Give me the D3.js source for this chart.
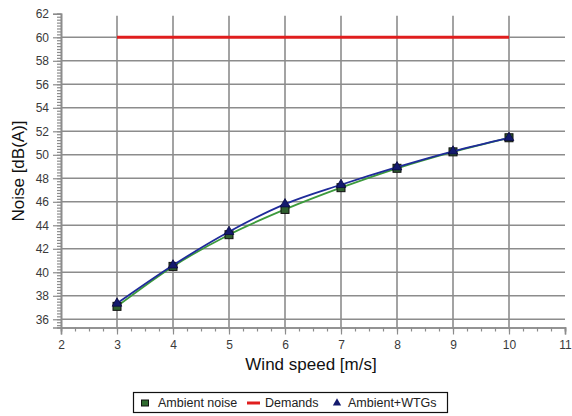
<!DOCTYPE html>
<html lang="en">
<head>
    <meta charset="UTF-8">
    <title>Noise vs wind speed</title>
    <style>
        body { margin: 0; padding: 0; background: #fff; }
        svg { display: block; font-family: "Liberation Sans", Arial, sans-serif; }
        svg text { font-family: "Liberation Sans", Arial, sans-serif; }
    </style>
</head>
<body>
    <div id="chart"></div>
    <script src="https://d3js.org/d3.v7.min.js"></script>
    <script>
        const windSpeeds = [3, 4, 5, 6, 7, 8, 9, 10];
        const ambientNoise = [37.1, 40.5, 43.2, 45.35, 47.2, 48.85, 50.25, 51.45];
        const ambientWtgs = [37.35, 40.6, 43.45, 45.8, 47.45, 48.95, 50.3, 51.45];
        const demands = [60, 60, 60, 60, 60, 60, 60, 60];
        const xTicks = [2, 3, 4, 5, 6, 7, 8, 9, 10, 11];
        const yTicks = [36, 38, 40, 42, 44, 46, 48, 50, 52, 54, 56, 58, 60, 62];
        const legendItems = ['Ambient noise', 'Demands', 'Ambient+WTGs'];

        const width = 572, height = 416;
        const svg = d3.select('#chart').append('svg')
            .attr('width', width)
            .attr('height', height);

        const x = d3.scaleLinear().domain([2, 11]).range([61, 565]);
        const y = d3.scaleLinear().domain([35.3, 62]).range([327.5, 13.8]);

        const gridColor = '#8c8c8c';

        // grid
        svg.append('g').selectAll('line')
            .data(xTicks.filter(d => d > 2 && d < 11))
            .enter().append('line')
            .attr('x1', d => x(d)).attr('x2', d => x(d))
            .attr('y1', y(62) + 2).attr('y2', y(35.3))
            .attr('stroke', gridColor).attr('stroke-width', 1.6);
        svg.append('g').selectAll('line')
            .data(yTicks.filter(d => d < 62))
            .enter().append('line')
            .attr('x1', x(2)).attr('x2', x(11))
            .attr('y1', d => y(d)).attr('y2', d => y(d))
            .attr('stroke', gridColor).attr('stroke-width', 1.6);

        // axes
        const xAxis = svg.append('g')
            .attr('transform', `translate(0,${y(35.3)})`)
            .call(d3.axisBottom(x).tickValues(d3.range(2, 11.01, 0.25)).tickSize(4).tickFormat(''));
        xAxis.append('g')
            .call(d3.axisBottom(x).tickValues(xTicks).tickSize(7).tickPadding(6).tickFormat(d3.format('d')));

        const yAxis = svg.append('g')
            .attr('transform', `translate(${x(2)},0)`)
            .call(d3.axisLeft(y).tickValues(d3.range(35.5, 62.01, 0.25)).tickSize(4).tickFormat(''));
        yAxis.append('g')
            .call(d3.axisLeft(y).tickValues(yTicks).tickSize(8).tickPadding(4).tickFormat(d3.format('d')));

        svg.selectAll('.domain').attr('stroke', gridColor).attr('stroke-width', 1.6);
        svg.selectAll('.tick line').attr('stroke', gridColor).attr('stroke-width', 1.2);
        svg.selectAll('.tick text')
            .attr('fill', '#3a3a3a')
            .style('font-size', '12px')
            .style('font-family', '"Liberation Sans", Arial, sans-serif');

        // axis titles
        svg.append('text')
            .attr('x', 311).attr('y', 370)
            .attr('text-anchor', 'middle')
            .style('font-size', '17px')
            .attr('fill', '#111')
            .text('Wind speed [m/s]');
        svg.append('text')
            .attr('transform', 'translate(24,171) rotate(-90)')
            .attr('text-anchor', 'middle')
            .style('font-size', '17px')
            .attr('fill', '#111')
            .text('Noise [dB(A)]');

        const line = d3.line()
            .x((d, i) => x(windSpeeds[i]))
            .y(d => y(d))
            .curve(d3.curveMonotoneX);

        // demands
        svg.append('path')
            .datum(demands)
            .attr('fill', 'none')
            .attr('stroke', '#e01e1e')
            .attr('stroke-width', 3)
            .attr('d', line);

        // ambient noise
        svg.append('path')
            .datum(ambientNoise)
            .attr('fill', 'none')
            .attr('stroke', '#3c9a3c')
            .attr('stroke-width', 1.8)
            .attr('d', line);
        svg.append('g').selectAll('rect')
            .data(ambientNoise)
            .enter().append('rect')
            .attr('x', (d, i) => x(windSpeeds[i]) - 4)
            .attr('y', d => y(d) - 4)
            .attr('width', 8).attr('height', 8)
            .attr('fill', '#2f5f2f')
            .attr('stroke', '#111')
            .attr('stroke-width', 1);

        // ambient + WTGs
        svg.append('path')
            .datum(ambientWtgs)
            .attr('fill', 'none')
            .attr('stroke', '#1f2b9a')
            .attr('stroke-width', 1.8)
            .attr('d', line);
        const tri = d3.symbol().type(d3.symbolTriangle).size(40);
        svg.append('g').selectAll('path')
            .data(ambientWtgs)
            .enter().append('path')
            .attr('transform', (d, i) => `translate(${x(windSpeeds[i])},${y(d)})`)
            .attr('d', tri)
            .attr('fill', '#141a6e')
            .attr('stroke', '#0a0a40')
            .attr('stroke-width', 0.8);

        // legend
        const legend = svg.append('g');
        legend.append('rect')
            .attr('x', 133.5).attr('y', 392.5)
            .attr('width', 314).attr('height', 20)
            .attr('fill', '#fff')
            .attr('stroke', '#111')
            .attr('stroke-width', 1.2);
        legend.append('rect')
            .attr('x', 141.5).attr('y', 400)
            .attr('width', 7).attr('height', 6)
            .attr('fill', '#2f6a2f').attr('stroke', '#111');
        legend.append('line')
            .attr('x1', 247).attr('x2', 260)
            .attr('y1', 403).attr('y2', 403)
            .attr('stroke', '#e01e1e').attr('stroke-width', 3);
        legend.append('path')
            .attr('transform', 'translate(337,403)')
            .attr('d', d3.symbol().type(d3.symbolTriangle).size(30))
            .attr('fill', '#141a6e');
        legend.selectAll('text')
            .data(legendItems)
            .enter().append('text')
            .attr('x', (d, i) => [158, 265, 348][i])
            .attr('y', 407)
            .style('font-size', '12.5px')
            .attr('fill', '#222')
            .text(d => d);
    </script>
</body>
</html>
